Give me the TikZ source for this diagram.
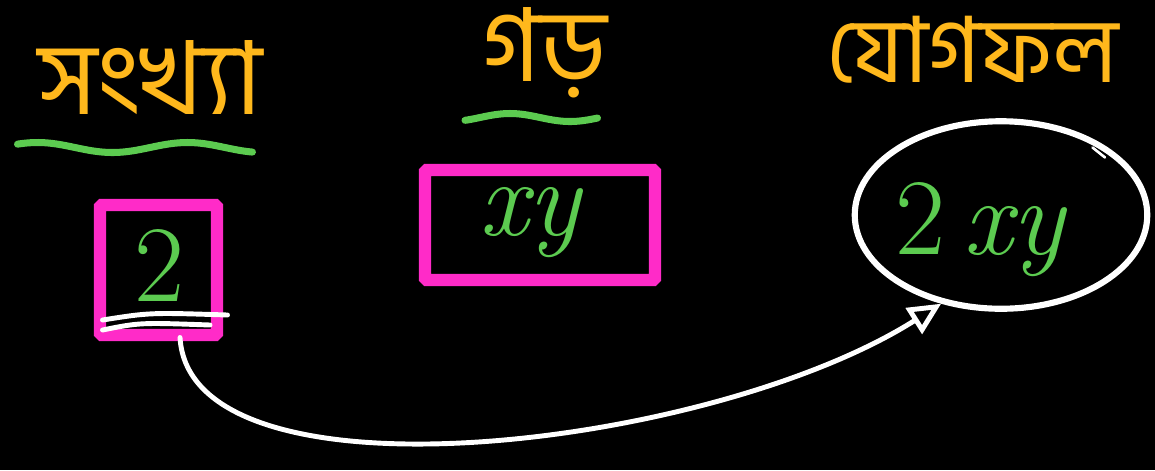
\documentclass[tikz,border=0pt]{standalone}
\usepackage{fontspec}
\newfontfamily\bnfont[Script=Bengali]{Hind Siliguri}
\usetikzlibrary{arrows.meta,shapes.geometric}
\definecolor{penorange}{HTML}{FFB81C}
\definecolor{pengreen}{HTML}{5CCB50}
\definecolor{penpink}{HTML}{FF2BC8}
\begin{document}
\begin{tikzpicture}[
    heading/.style={text=penorange, font=\bnfont\fontsize{58}{58}\selectfont},
    wave/.style={pengreen, line width=4pt, line cap=round},
    term/.style={text=pengreen, font=\itshape\fontsize{62}{62}\selectfont},
    termbox/.style={draw=penpink, line width=7pt, inner sep=0pt, rounded corners=1pt},
    chalk/.style={white, line width=2.8pt, line cap=round},
]
\fill[black] (0,0) rectangle (23.1,-9.4);
\useasboundingbox (0,0) rectangle (23.1,-9.4);

% Headings
\node[heading] (num) at (3.0,-1.55) {সংখ্যা};
\node[heading] (avg) at (10.9,-1.05) {গড়};
\node[heading, font=\bnfont\fontsize{52}{52}\selectfont] (sum) at (19.45,-1.0) {যোগফল};

% Underlines
\draw[wave, domain=0.35:5.05, samples=80, smooth, variable=\t]
    plot ({\t}, {-2.95 + 0.1*sin(120*\t)});
\draw[wave, domain=9.3:11.95, samples=60, smooth, variable=\t]
    plot ({\t}, {-2.35 + 0.08*sin(150*\t)});

% Boxes
\node[termbox, minimum width=2.34cm, minimum height=2.6cm] (two) at (3.17,-5.4) {};
\node[term, font=\upshape\fontsize{62}{62}\selectfont] (twotxt) at (3.2,-5.3) {2};
\node[termbox, minimum width=4.6cm, minimum height=2.2cm] (xy) at (10.8,-4.5) {};
\node[term] (xytxt) at (10.6,-4.45) {xy};

% White scribble under the 2
\draw[chalk] (2.05,-6.4) .. controls (3.0,-6.25) .. (4.55,-6.3);
\draw[chalk] (2.05,-6.6) .. controls (2.8,-6.45) .. (4.2,-6.5);

% Result circle
\node[draw=white, line width=3.5pt, ellipse, minimum width=5.85cm, minimum height=3.75cm] (res) at (20.02,-4.3) {};
\node[term] (restxt) at (19.6,-4.6) {{\upshape 2}\,xy};
\draw[white, line width=1.5pt, line cap=round] (21.85,-2.95) -- (22.1,-3.15);

% Arrow
\draw[chalk, -{Triangle[open, length=0.65cm, width=0.6cm]}]
    (3.6,-6.75) .. controls (3.8,-10.2) and (14.2,-9.0) .. (res.236);

\end{tikzpicture}
\end{document}
